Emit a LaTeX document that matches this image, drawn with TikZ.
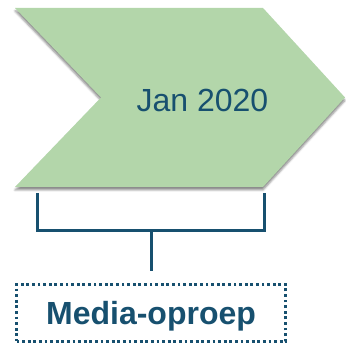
\documentclass[tikz,border=0pt]{standalone}
\usepackage{fontspec}
\setmainfont{Liberation Sans}
\usepackage{xcolor}
\usepackage{tikz}
\usetikzlibrary{shadows.blur}

\definecolor{chevgreen}{HTML}{B3D6AA}
\definecolor{darkteal}{HTML}{17506F}

\tikzset{
    bracket/.style={draw=darkteal, line width=3pt},
    dotbox/.style={draw=darkteal, line width=3pt, dash pattern=on 2.8pt off 2.8pt,
        minimum width=269pt, minimum height=57pt, inner sep=0pt,
        text height=26pt, text depth=2pt}
}

\begin{document}
\begin{tikzpicture}[x=1pt, y=1pt]
    \useasboundingbox (0,0) rectangle (346,344);
    % Chevron
    \fill[chevgreen, blur shadow={shadow xshift=0pt, shadow yshift=-3pt,
        shadow blur radius=2pt, shadow opacity=45}]
        (15,336) -- (263,336) -- (345,246.5) -- (263,157) -- (15,157) -- (101,246.5) -- cycle;
    \node[anchor=base, text=darkteal, font=\fontsize{32}{38}\selectfont] (jan) at (202.5,232) {Jan 2020};

    % Bracket under the chevron
    \coordinate (brkL) at (37,151);
    \coordinate (brkR) at (264,151);
    \coordinate (brkMid) at (151,113);
    \draw[bracket] (brkL) |- (brkMid) -| (brkR);

    % Media box
    \node[dotbox, text=darkteal, font=\fontsize{32}{38}\selectfont\bfseries] (oproep) at (151,31) {Media-oproep};
    \draw[bracket] (brkMid) -- ([yshift=12pt]oproep.north);
\end{tikzpicture}
\end{document}
